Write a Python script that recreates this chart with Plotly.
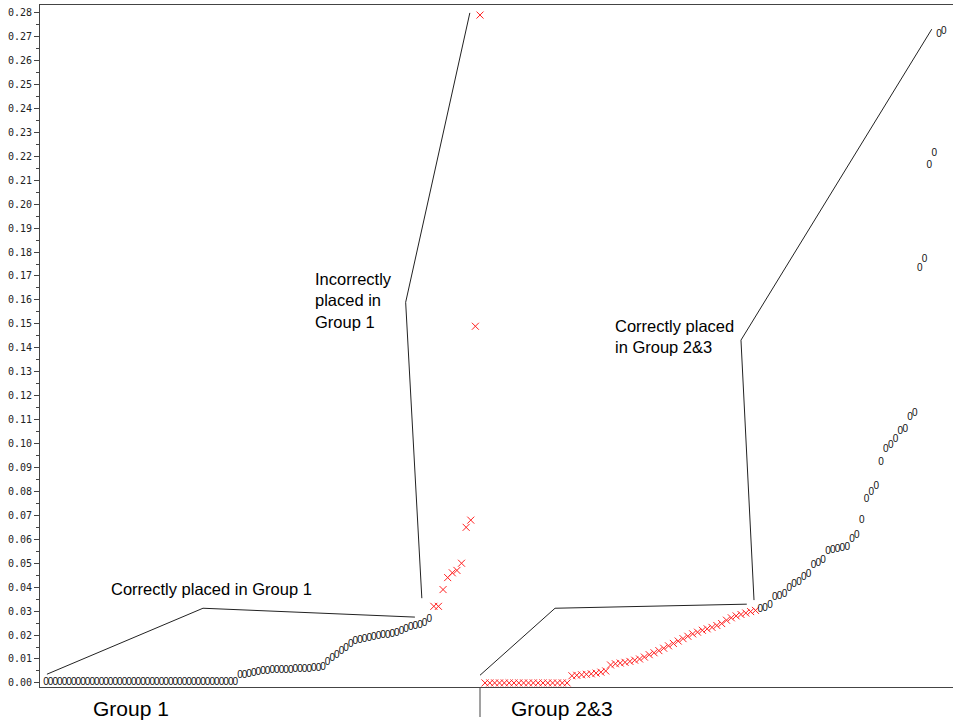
import plotly.graph_objects as go

# ---------------- data ----------------
# Group 1: correctly placed (black "0"), sorted ascending
g1_correct = [0.0] * 42 + [
    0.0030, 0.0033, 0.0035, 0.0038, 0.0042,
    0.0046, 0.0048, 0.0050, 0.0051, 0.0052, 0.0053, 0.0054, 0.0055, 0.0056,
    0.0057, 0.0058, 0.0060, 0.0062, 0.0064,
    0.0085, 0.0100, 0.0115, 0.0130, 0.0145, 0.0160, 0.0172,
    0.0178, 0.0182, 0.0186, 0.0190, 0.0194, 0.0197, 0.0200, 0.0204, 0.0208,
    0.0215, 0.0222, 0.0230, 0.0236, 0.0240, 0.0250, 0.0265,
]
# Group 1: incorrectly placed (red x)
g1_incorrect = [0.032, 0.032, 0.039, 0.044, 0.046, 0.047, 0.050, 0.065, 0.068, 0.149, 0.279]

# Group 2&3: incorrectly placed (red x)
g23_incorrect = [0.0] * 18 + [
    0.0030, 0.0032, 0.0034, 0.0036, 0.0038, 0.0041, 0.0045, 0.0050,
    0.0075, 0.0080, 0.0083, 0.0086, 0.0090, 0.0095, 0.0100, 0.0108,
    0.0118, 0.0126, 0.0135, 0.0145, 0.0155, 0.0165, 0.0175, 0.0185,
    0.0195, 0.0205, 0.0212, 0.0220, 0.0226, 0.0232, 0.0240, 0.0248,
    0.0262, 0.0272, 0.0280, 0.0286, 0.0292, 0.0298, 0.0303,
]
# Group 2&3: correctly placed (black "0")
g23_correct = [
    0.0305, 0.0312, 0.0322, 0.0358, 0.0362, 0.0368, 0.0395, 0.0410, 0.0420,
    0.0440, 0.0455, 0.0490, 0.0500, 0.0510, 0.0550, 0.0555, 0.0558, 0.0562,
    0.0565, 0.0600, 0.0615, 0.0680, 0.0765, 0.0795, 0.0820, 0.0920, 0.0975,
    0.0990, 0.1015, 0.1050, 0.1060, 0.1110, 0.1125, 0.1730, 0.1770, 0.2160,
    0.2210, 0.2710, 0.2720,
]

y_ticks = [round(i * 0.01, 2) for i in range(29)]
group_labels = ["Group 1", "Group 2&3"]
callout_texts = [
    "Correctly placed in Group 1",
    "Incorrectly<br>placed in<br>Group 1",
    "Incorrectly placed in Group 2&3",
    "Correctly placed<br>in Group 2&3",
]

# observation order within each group
n1c = len(g1_correct)
x1_correct = list(range(n1c))
x1_incorrect = list(range(n1c, n1c + len(g1_incorrect)))
n2i = len(g23_incorrect)
x2_incorrect = list(range(n2i))
x2_correct = list(range(n2i, n2i + len(g23_correct)))

# ---------------- figure ----------------
fig = go.Figure()
zero_font = dict(family="Liberation Sans", size=10, color="#111")
red_marker = dict(symbol="x-thin", size=7, line=dict(width=1, color="#ff2020"), color="#ff2020")

fig.add_trace(go.Scatter(x=x1_correct, y=g1_correct, mode="text", text=["0"] * len(g1_correct),
                         textfont=zero_font, xaxis="x", yaxis="y", cliponaxis=False, showlegend=False))
fig.add_trace(go.Scatter(x=x1_incorrect, y=g1_incorrect, mode="markers", marker=red_marker,
                         xaxis="x", yaxis="y", cliponaxis=False, showlegend=False))
fig.add_trace(go.Scatter(x=x2_incorrect, y=g23_incorrect, mode="markers", marker=red_marker,
                         xaxis="x2", yaxis="y", cliponaxis=False, showlegend=False))
fig.add_trace(go.Scatter(x=x2_correct, y=g23_correct, mode="text", text=["0"] * len(g23_correct),
                         textfont=zero_font, xaxis="x2", yaxis="y", cliponaxis=False, showlegend=False))

split = 440 / 913
axis_color = "#444"
line_style = dict(color="#222", width=1)

fig.update_layout(
    width=953, height=726, autosize=False,
    margin=dict(l=40, r=0, t=5, b=39, autoexpand=False),
    paper_bgcolor="white", plot_bgcolor="white",
    xaxis=dict(domain=[0, split], range=[-1.30, 94], showticklabels=False, ticks="",
               showline=True, mirror=True, linecolor=axis_color, linewidth=1,
               showgrid=False, zeroline=False, anchor="y"),
    xaxis2=dict(domain=[split, 1], range=[-1.035, 96.9], showticklabels=False, ticks="",
                showline=True, mirror=True, linecolor=axis_color, linewidth=1,
                showgrid=False, zeroline=False, anchor="y"),
    yaxis=dict(range=[-0.0017, 0.2832], tickvals=y_ticks, tickformat=".2f",
               ticks="outside", ticklen=5, tickcolor=axis_color, automargin=False,
               minor=dict(ticks="outside", ticklen=3, dtick=0.005, tick0=0, tickcolor=axis_color),
               showline=True, linecolor=axis_color, linewidth=1, showgrid=False, zeroline=False,
               tickfont=dict(family="DejaVu Sans Mono", size=10, color="#222")),
    font=dict(family="Liberation Sans", color="black"),
)

shapes = [
    dict(type="path", xref="x", yref="y",
         path="M 0.2,0.00364 L 34.0,0.0312 L 79.9,0.0275", line=line_style),
    dict(type="path", xref="x", yref="y",
         path="M 81.4,0.0354 L 77.9,0.159 L 91.8,0.2799", line=line_style),
    dict(type="path", xref="x2", yref="y",
         path="M -1.04,0.0032 L 14.5,0.0312 L 54.2,0.0329", line=line_style),
    dict(type="path", xref="x2", yref="y",
         path="M 55.7,0.0346 L 53.0,0.1432 L 92.5,0.2731", line=line_style),
    dict(type="line", xref="paper", yref="paper", x0=split, x1=split, y0=0, y1=-30 / 682,
         line=dict(color=axis_color, width=1)),
]
fig.update_layout(shapes=shapes)

ann_font = dict(family="Liberation Sans", size=16.5, color="black")
annotations = [
    dict(text=callout_texts[0], xref="x", yref="y", x=13.6, y=0.0392,
         xanchor="left", yanchor="middle", showarrow=False, font=ann_font, align="left"),
    dict(text=callout_texts[1], xref="x", yref="y", x=57.9, y=0.1599,
         xanchor="left", yanchor="middle", showarrow=False, font=ann_font, align="left"),
    dict(text=callout_texts[2], xref="x2", yref="y", x=-2.3, y=0.0396,
         xanchor="left", yanchor="middle", showarrow=False, font=ann_font, align="left"),
    dict(text=callout_texts[3], xref="x2", yref="y", x=26.6, y=0.1447,
         xanchor="left", yanchor="middle", showarrow=False, font=ann_font, align="left"),
    dict(text=group_labels[0], xref="x", yref="paper", x=18.4, y=-21 / 682,
         xanchor="center", yanchor="middle", showarrow=False,
         font=dict(family="Liberation Sans", size=21, color="black")),
    dict(text=group_labels[1], xref="x2", yref="paper", x=15.9, y=-21 / 682,
         xanchor="center", yanchor="middle", showarrow=False,
         font=dict(family="Liberation Sans", size=21, color="black")),
]
fig.update_layout(annotations=annotations)

fig.write_html("out.html", config={"displayModeBar": False},
               post_script="document.body.style.margin='0';document.body.style.overflow='hidden';")
